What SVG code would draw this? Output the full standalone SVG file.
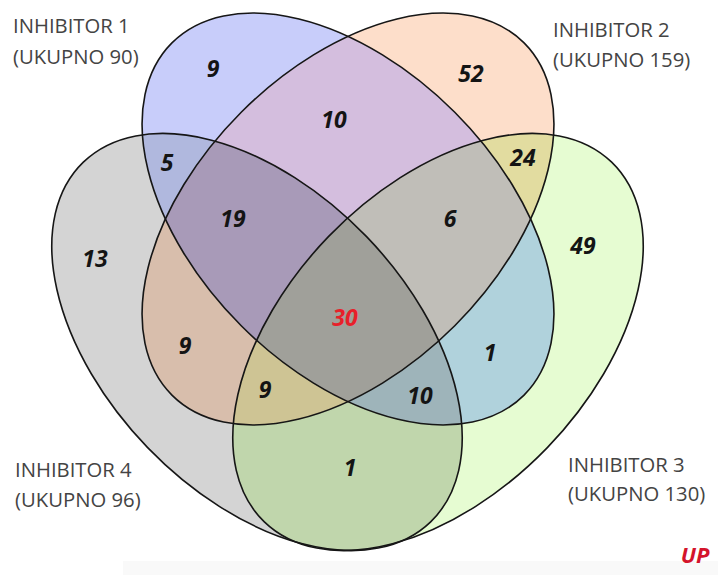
<svg xmlns="http://www.w3.org/2000/svg" xmlns:xlink="http://www.w3.org/1999/xlink" width="718" height="575" viewBox="0 0 718 575">
<style>
.lbl{font-family:"Open Sans","Noto Sans","Liberation Sans",sans-serif;font-size:20.3px;fill:#444444}
.num{font-family:"Open Sans","Noto Sans","Liberation Sans",sans-serif;font-size:23px;font-weight:bold;font-style:italic;fill:#141414;text-anchor:middle}
.outline{fill:none;stroke:#161616;stroke-width:1.6}
</style>
<defs>
<ellipse id="e1" cx="0" cy="0" rx="249" ry="151" transform="translate(348 219) rotate(45)"/>
<ellipse id="e2" cx="0" cy="0" rx="249" ry="151" transform="translate(348 219) rotate(-45)"/>
<ellipse id="e3" cx="0" cy="0" rx="250" ry="152" transform="translate(438 342) rotate(-46)"/>
<ellipse id="e4" cx="0" cy="0" rx="250" ry="152" transform="translate(257 342) rotate(46)"/>
<clipPath id="c1"><use href="#e1"/></clipPath>
<clipPath id="c2"><use href="#e2"/></clipPath>
<clipPath id="c3"><use href="#e3"/></clipPath>
<clipPath id="c4"><use href="#e4"/></clipPath>
</defs>
<rect x="0" y="0" width="718" height="575" fill="#ffffff"/>
<rect x="123" y="561" width="595" height="14" fill="#f9f9f9"/>
<g id="regions">
<use href="#e1" fill="#c8cdfa"/>
<use href="#e2" fill="#fddeca"/>
<use href="#e3" fill="#e6fcd2"/>
<use href="#e4" fill="#d4d4d4"/>
<g clip-path="url(#c1)"><use href="#e2" fill="#d4bede"/></g>
<g clip-path="url(#c1)"><use href="#e3" fill="#b0d2dc"/></g>
<g clip-path="url(#c1)"><use href="#e4" fill="#b0b8de"/></g>
<g clip-path="url(#c2)"><use href="#e3" fill="#e2dca0"/></g>
<g clip-path="url(#c2)"><use href="#e4" fill="#d8beac"/></g>
<g clip-path="url(#c3)"><use href="#e4" fill="#c0d6ac"/></g>
<g clip-path="url(#c1)"><g clip-path="url(#c2)"><use href="#e3" fill="#c0beb8"/></g></g>
<g clip-path="url(#c1)"><g clip-path="url(#c2)"><use href="#e4" fill="#a89ab8"/></g></g>
<g clip-path="url(#c1)"><g clip-path="url(#c3)"><use href="#e4" fill="#9eb4ba"/></g></g>
<g clip-path="url(#c2)"><g clip-path="url(#c3)"><use href="#e4" fill="#cec494"/></g></g>
<g clip-path="url(#c1)"><g clip-path="url(#c2)"><g clip-path="url(#c3)"><use href="#e4" fill="#a0a09a"/></g></g></g>
</g>
<g id="set1"><use href="#e1" class="outline"/><text class="lbl" x="13" y="33">INHIBITOR 1</text><text class="lbl" x="13" y="64">(UKUPNO 90)</text></g>
<g id="set2"><use href="#e2" class="outline"/><text class="lbl" x="553" y="37">INHIBITOR 2</text><text class="lbl" x="553" y="67">(UKUPNO 159)</text></g>
<g id="set3"><use href="#e3" class="outline"/><text class="lbl" x="568" y="472">INHIBITOR 3</text><text class="lbl" x="568" y="501">(UKUPNO 130)</text></g>
<g id="set4"><use href="#e4" class="outline"/><text class="lbl" x="15" y="477">INHIBITOR 4</text><text class="lbl" x="15" y="507">(UKUPNO 96)</text></g>
<g id="connectors"></g>
<g id="counts">
<text class="num" x="213" y="76.5">9</text>
<text class="num" x="471" y="81.5">52</text>
<text class="num" x="334" y="128">10</text>
<text class="num" x="167" y="170.5">5</text>
<text class="num" x="523" y="165.5">24</text>
<text class="num" x="233" y="226.5">19</text>
<text class="num" x="450" y="226.5">6</text>
<text class="num" x="95" y="266.5">13</text>
<text class="num" x="583" y="253.5">49</text>
<text class="num" x="345" y="325.5" style="fill:#e8202a">30</text>
<text class="num" x="185" y="353.5">9</text>
<text class="num" x="490" y="360.5">1</text>
<text class="num" x="265" y="397.5">9</text>
<text class="num" x="420" y="403.5">10</text>
<text class="num" x="350" y="475.5">1</text>
<text class="num" x="695" y="563" style="fill:#d4142c;font-size:22px">UP</text>
</g>
</svg>
